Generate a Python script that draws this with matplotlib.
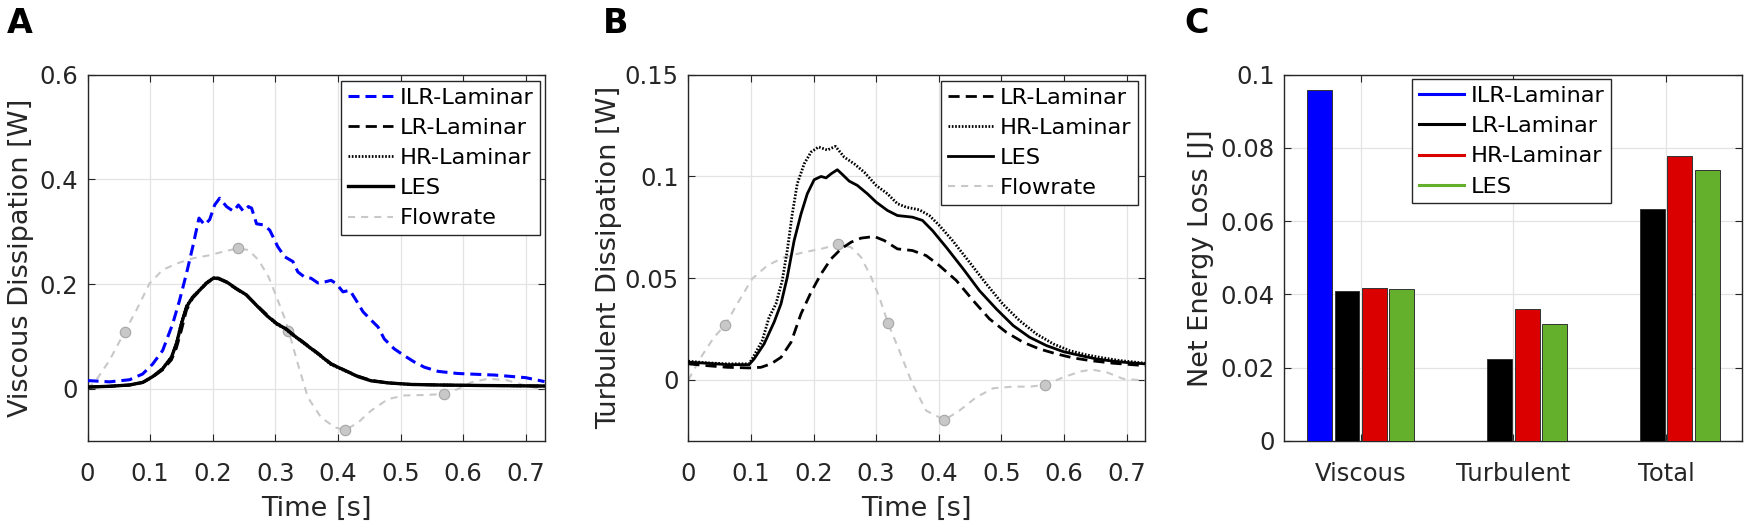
import numpy as np
import matplotlib
matplotlib.use("Agg")
import matplotlib.pyplot as plt
from matplotlib.lines import Line2D
from matplotlib.ticker import FuncFormatter

# ---------------- data ----------------
# Panel A: viscous dissipation [W]
t_ilr = [0, 0.035, 0.067, 0.088, 0.104, 0.12, 0.136, 0.147, 0.158, 0.168, 0.178, 0.187,
         0.195, 0.203, 0.211, 0.222, 0.233, 0.241, 0.249, 0.257, 0.262, 0.270, 0.281,
         0.291, 0.304, 0.315, 0.328, 0.336, 0.347, 0.357, 0.368, 0.379, 0.389, 0.397,
         0.408, 0.419, 0.429, 0.440, 0.453, 0.464, 0.474, 0.490, 0.506, 0.522, 0.538,
         0.560, 0.591, 0.629, 0.65, 0.70, 0.73]
visc_ilr = [0.0154, 0.013, 0.017, 0.028, 0.047, 0.073, 0.124, 0.169, 0.220, 0.271, 0.326,
            0.313, 0.323, 0.351, 0.364, 0.348, 0.339, 0.351, 0.339, 0.348, 0.345, 0.315,
            0.313, 0.303, 0.271, 0.252, 0.243, 0.223, 0.213, 0.211, 0.202, 0.204, 0.207,
            0.201, 0.185, 0.188, 0.169, 0.147, 0.131, 0.118, 0.095, 0.076, 0.063, 0.051,
            0.041, 0.033, 0.029, 0.027, 0.026, 0.021, 0.0135]

t_visc = [0, 0.035, 0.067, 0.088, 0.104, 0.12, 0.134, 0.142, 0.15, 0.158, 0.168, 0.179,
          0.19, 0.201, 0.209, 0.222, 0.238, 0.254, 0.27, 0.286, 0.302, 0.316, 0.326,
          0.347, 0.368, 0.389, 0.411, 0.432, 0.453, 0.48, 0.517, 0.56, 0.629, 0.68, 0.73]
visc_lr = [0.003, 0.0045, 0.0068, 0.0115, 0.022, 0.036, 0.055, 0.078, 0.112, 0.150, 0.173,
           0.187, 0.201, 0.210, 0.210, 0.203, 0.190, 0.178, 0.160, 0.142, 0.125, 0.116,
           0.106, 0.087, 0.068, 0.048, 0.035, 0.024, 0.016, 0.011, 0.008, 0.007, 0.006,
           0.0055, 0.005]
visc_hr = [0.003, 0.0045, 0.007, 0.012, 0.023, 0.039, 0.061, 0.088, 0.127, 0.158, 0.176,
           0.189, 0.203, 0.212, 0.211, 0.204, 0.191, 0.179, 0.159, 0.140, 0.123, 0.114,
           0.104, 0.085, 0.066, 0.046, 0.034, 0.023, 0.015, 0.011, 0.008, 0.007, 0.006,
           0.0055, 0.005]
visc_les = [0.003, 0.0045, 0.007, 0.012, 0.023, 0.038, 0.060, 0.086, 0.124, 0.156, 0.175,
            0.188, 0.202, 0.211, 0.211, 0.204, 0.191, 0.179, 0.159, 0.140, 0.124, 0.115,
            0.105, 0.086, 0.067, 0.047, 0.035, 0.023, 0.015, 0.011, 0.008, 0.007, 0.006,
            0.0055, 0.005]

# flowrate curve (scaled) drawn in panel A
t_flow_a = [0, 0.013, 0.035, 0.059, 0.078, 0.099, 0.12, 0.142, 0.168, 0.195, 0.217, 0.240,
            0.257, 0.273, 0.289, 0.302, 0.316, 0.321, 0.336, 0.352, 0.373, 0.395, 0.412,
            0.432, 0.453, 0.48, 0.506, 0.544, 0.570, 0.591, 0.613, 0.64, 0.67, 0.70, 0.72,
            0.73]
flow_a = [0, 0.015, 0.054, 0.108, 0.150, 0.201, 0.227, 0.239, 0.249, 0.255, 0.262, 0.268,
          0.265, 0.246, 0.214, 0.175, 0.131, 0.111, 0.047, -0.017, -0.055, -0.074, -0.079,
          -0.065, -0.042, -0.020, -0.013, -0.012, -0.010, -0.001, 0.012, 0.019, 0.016,
          0.006, 0.0, 0.0]
mark_a = [3, 11, 17, 22, 28]

# Panel B: turbulent dissipation [W]
t_turb_lr = [0, 0.030, 0.062, 0.097, 0.116, 0.132, 0.148, 0.164, 0.180, 0.196, 0.212,
             0.228, 0.244, 0.260, 0.276, 0.297, 0.313, 0.334, 0.358, 0.380, 0.401, 0.428,
             0.455, 0.481, 0.508, 0.535, 0.561, 0.588, 0.615, 0.642, 0.679, 0.730]
turb_lr = [0.0079, 0.0070, 0.0062, 0.0059, 0.0062, 0.0079, 0.0111, 0.0185, 0.0325, 0.0431,
           0.0521, 0.0595, 0.0644, 0.0677, 0.0697, 0.0705, 0.0685, 0.0644, 0.0636, 0.0611,
           0.0562, 0.0489, 0.0390, 0.0300, 0.0234, 0.0185, 0.0152, 0.0128, 0.0108, 0.0095,
           0.0082, 0.0070]

t_turb_hr = [0, 0.030, 0.062, 0.097, 0.105, 0.118, 0.129, 0.140, 0.150, 0.158, 0.166,
             0.174, 0.185, 0.196, 0.208, 0.222, 0.235, 0.249, 0.265, 0.281, 0.300, 0.318,
             0.334, 0.348, 0.369, 0.385, 0.401, 0.422, 0.449, 0.476, 0.502, 0.529, 0.556,
             0.583, 0.609, 0.636, 0.663, 0.690, 0.730]
turb_hr = [0.0092, 0.0084, 0.0079, 0.0079, 0.0120, 0.0193, 0.0308, 0.0374, 0.0489, 0.0636,
           0.0816, 0.0964, 0.1062, 0.1120, 0.1145, 0.1130, 0.1148, 0.1095, 0.1062, 0.1021,
           0.0956, 0.0915, 0.0866, 0.0849, 0.0836, 0.0808, 0.0759, 0.0685, 0.0579, 0.0472,
           0.0374, 0.0292, 0.0226, 0.0177, 0.0144, 0.0123, 0.0108, 0.0095, 0.0082]

t_turb_les = [0, 0.030, 0.062, 0.097, 0.105, 0.121, 0.137, 0.148, 0.158, 0.169, 0.180,
              0.190, 0.201, 0.212, 0.220, 0.228, 0.238, 0.246, 0.257, 0.270, 0.286, 0.300,
              0.318, 0.334, 0.358, 0.374, 0.390, 0.412, 0.439, 0.465, 0.492, 0.519, 0.545,
              0.572, 0.599, 0.626, 0.652, 0.679, 0.706, 0.730]
turb_les = [0.0087, 0.0082, 0.0075, 0.0075, 0.0103, 0.0177, 0.0284, 0.0374, 0.0505, 0.0685,
            0.0816, 0.0915, 0.0984, 0.1000, 0.0993, 0.1013, 0.1033, 0.1010, 0.0977, 0.0956,
            0.0915, 0.0874, 0.0833, 0.0808, 0.0800, 0.0784, 0.0734, 0.0652, 0.0546, 0.0439,
            0.0349, 0.0267, 0.0210, 0.0169, 0.0139, 0.0120, 0.0103, 0.0092, 0.0084, 0.0079]

t_flow_b = [0, 0.020, 0.041, 0.059, 0.078, 0.102, 0.126, 0.153, 0.185, 0.212, 0.239, 0.260,
            0.276, 0.292, 0.305, 0.319, 0.337, 0.358, 0.380, 0.409, 0.433, 0.460, 0.487,
            0.519, 0.545, 0.570, 0.599, 0.626, 0.644, 0.668, 0.695, 0.73]
flow_b = [0, 0.0111, 0.0210, 0.0270, 0.0374, 0.0497, 0.0562, 0.0603, 0.0628, 0.0644,
          0.0666, 0.0652, 0.0603, 0.0505, 0.0407, 0.0279, 0.0144, -0.0020, -0.0151,
          -0.0197, -0.0151, -0.0085, -0.0041, -0.0033, -0.0033, -0.0025, 0.0013, 0.0041,
          0.0051, 0.0038, 0.0005, -0.0003]
mark_b = [3, 10, 15, 19, 25]

# Panel C: net energy loss [J]
loss_cats = ['Viscous', 'Turbulent', 'Total']
loss_ilr = [0.0959, np.nan, np.nan]
loss_lr = [0.0409, 0.0225, 0.0633]
loss_hr = [0.0418, 0.0361, 0.0779]
loss_les = [0.0416, 0.0320, 0.0740]

# ---------------- style ----------------
TXT = '#262626'
GRAY = '#C8C8C8'
BLUE = '#0000FF'
RED = '#DA0000'
GREEN = '#64B02C'
TICK_FS = 17.5
LAB_FS = 19.5
LEG_FS = 16.2
DASH = (4.0, 2.2)     # '--' in line-width units
DOT = (0.6, 0.6)      # ':'

plt.rcParams['font.family'] = 'DejaVu Sans'

fig = plt.figure(figsize=(17.48, 5.30), dpi=100)
bottom, height = 0.168, 0.691
axA = fig.add_axes([0.0501, bottom, 0.2614, height])
axB = fig.add_axes([0.3938, bottom, 0.2614, height])
axC = fig.add_axes([0.7348, bottom, 0.2619, height])

fmt = FuncFormatter(lambda v, p: '%g' % round(v, 4))


def style_axes(ax):
    for s in ax.spines.values():
        s.set_color(TXT)
        s.set_linewidth(1.0)
    ax.tick_params(direction='in', length=5, width=0.8, colors=TXT, labelsize=TICK_FS,
                   top=True, right=True)
    ax.tick_params(axis='x', pad=15)
    ax.tick_params(axis='y', pad=7)
    ax.grid(True, color='#E3E3E3', linewidth=0.9)
    ax.set_axisbelow(True)


def flow_line(ax, t, q, idx):
    ax.plot(t, q, color=GRAY, lw=1.5, dashes=(3.4, 2.9), label='Flowrate', zorder=2)
    ax.plot(t, q, ls='none', marker='o', markevery=idx, ms=7.5,
            mfc='#C8C8C8', mec='#A5A5A5', mew=0.8, zorder=2)


def legend(ax, anchor, loc='upper right', handles=None, labels=None):
    kw = dict(loc=loc, bbox_to_anchor=anchor, borderaxespad=0, fontsize=LEG_FS,
              handlelength=2.0, handletextpad=0.3, labelspacing=0.45, borderpad=0.3,
              fancybox=False, framealpha=1, edgecolor=TXT)
    if handles is None:
        lg = ax.legend(**kw)
    else:
        lg = ax.legend(handles, labels, **kw)
    lg.get_frame().set_linewidth(1.0)
    for t in lg.get_texts():
        t.set_color('black')
    return lg


# ---------------- panel A ----------------
style_axes(axA)
axA.plot(t_ilr, visc_ilr, color=BLUE, lw=2.2, dashes=(3.6, 1.95), label='ILR-Laminar', zorder=3)
axA.plot(t_visc, visc_lr, color='black', lw=2.0, dashes=DASH, label='LR-Laminar', zorder=3)
axA.plot(t_visc, visc_hr, color='black', lw=2.0, dashes=DOT, label='HR-Laminar', zorder=3)
axA.plot(t_visc, visc_les, color='black', lw=2.4, label='LES', zorder=3)
flow_line(axA, t_flow_a, flow_a, mark_a)
axA.set_xlim(0, 0.73)
axA.set_ylim(-0.1, 0.6)
axA.set_xticks(np.arange(0, 0.71, 0.1))
axA.set_yticks([0, 0.2, 0.4, 0.6])
axA.xaxis.set_major_formatter(fmt)
axA.yaxis.set_major_formatter(fmt)
axA.set_xlabel('Time [s]', fontsize=LAB_FS, color=TXT, labelpad=7)
axA.set_ylabel('Viscous Dissipation [W]', fontsize=LAB_FS, color=TXT, labelpad=4)
legend(axA, (0.991, 0.9825))

# ---------------- panel B ----------------
style_axes(axB)
axB.plot(t_turb_lr, turb_lr, color='black', lw=2.0, dashes=DASH, label='LR-Laminar', zorder=3)
axB.plot(t_turb_hr, turb_hr, color='black', lw=2.0, dashes=DOT, label='HR-Laminar', zorder=3)
axB.plot(t_turb_les, turb_les, color='black', lw=2.0, label='LES', zorder=3)
flow_line(axB, t_flow_b, flow_b, mark_b)
axB.set_xlim(0, 0.73)
axB.set_ylim(-0.03, 0.15)
axB.set_xticks(np.arange(0, 0.71, 0.1))
axB.set_yticks([0, 0.05, 0.1, 0.15])
axB.xaxis.set_major_formatter(fmt)
axB.yaxis.set_major_formatter(fmt)
axB.set_xlabel('Time [s]', fontsize=LAB_FS, color=TXT, labelpad=7)
axB.set_ylabel('Turbulent Dissipation [W]', fontsize=LAB_FS, color=TXT, labelpad=2)
legend(axB, (0.983, 0.983))

# ---------------- panel C ----------------
style_axes(axC)
x = np.arange(1, len(loss_cats) + 1)
pitch, width = 0.18, 0.163
series = [(loss_ilr, BLUE, 'ILR-Laminar'), (loss_lr, 'black', 'LR-Laminar'),
          (loss_hr, RED, 'HR-Laminar'), (loss_les, GREEN, 'LES')]
handles = []
for i, (vals, col, lab) in enumerate(series):
    axC.bar(x + (i - 1.5) * pitch, vals, width=width, color=col, edgecolor='#333333',
            linewidth=0.7, zorder=3)
    handles.append(Line2D([], [], color=col, lw=2.2))
axC.set_xlim(0.5, 3.5)
axC.set_ylim(0, 0.1)
axC.set_xticks(x)
axC.set_xticklabels(loss_cats)
axC.set_yticks(np.arange(0, 0.101, 0.02))
axC.yaxis.set_major_formatter(fmt)
axC.set_ylabel('Net Energy Loss [J]', fontsize=LAB_FS, color=TXT, labelpad=5)
legend(axC, (0.2785, 0.987), loc='upper left', handles=handles,
       labels=[s[2] for s in series])

# panel letters
for lx, letter in [(7, 'A'), (603, 'B'), (1184, 'C')]:
    fig.text(lx / 1748, 1 - 33 / 530, letter, fontsize=24, fontweight='bold',
             color='black', va='baseline', ha='left')

fig.savefig('out.png', dpi=100)
